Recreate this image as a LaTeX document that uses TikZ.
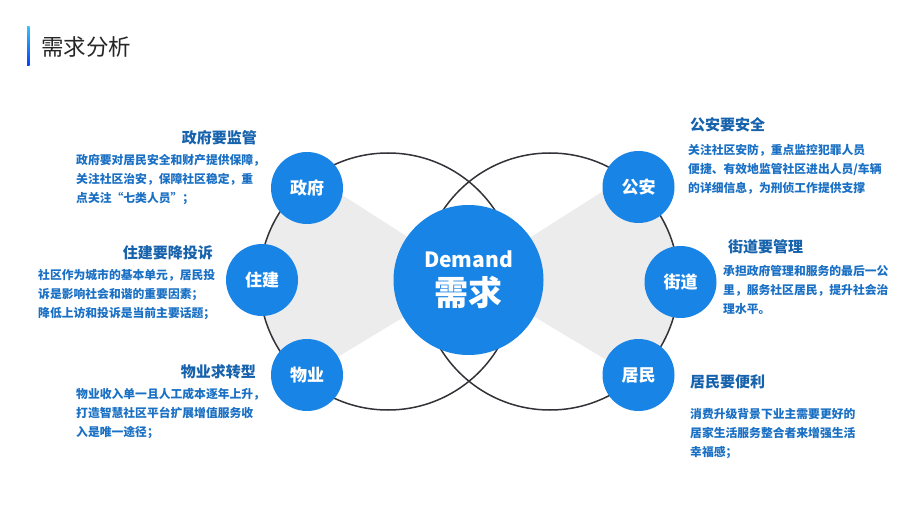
\documentclass[tikz,border=0pt]{standalone}
\usepackage{fontspec}
\setmainfont{Noto Sans CJK SC}
\usepackage{xcolor}
\usepackage{tikz}
\usetikzlibrary{positioning}
\definecolor{bubbleblue}{RGB}{24,132,230}
\definecolor{headblue}{RGB}{22,98,172}
\definecolor{bodyblue}{RGB}{26,112,196}
\definecolor{ringgray}{RGB}{50,50,56}
\definecolor{wedgegray}{RGB}{236,236,236}

\begin{document}
\begin{tikzpicture}[x=1pt, y=-1pt,
  bubble/.style={circle, fill=bubbleblue, text=white, minimum size=72pt, inner sep=0pt, font=\fontsize{17}{17}\selectfont\bfseries},
  hub/.style={circle, fill=bubbleblue, minimum size=150pt, inner sep=0pt},
  ring/.style={draw=ringgray, line width=1.5pt},
  head/.style={text=headblue, inner sep=0pt, font=\fontsize{15}{15}\selectfont\bfseries},
  body/.style={text=bodyblue, inner sep=0pt, align=left, font=\fontsize{11.8}{19}\selectfont\bfseries}]
  \useasboundingbox[fill=white] (0,0) rectangle (920,518);

  \shade[top color=cyan!70!blue!80, bottom color=blue!75!cyan] (27,27) rectangle (29.5,66);
  \node[anchor=west, inner sep=0pt, text=black!85, font=\fontsize{22.5}{22.5}\selectfont] (title) at (41,47) {需求分析};

  \begin{scope}
    \clip (388,281.5) circle[radius=128.5pt];
    \fill[wedgegray] (470,277) -- (250,136) -- (250,410) -- cycle;
  \end{scope}
  \begin{scope}
    \clip (550,281.5) circle[radius=128.5pt];
    \fill[wedgegray] (468,277) -- (690,136) -- (690,410) -- cycle;
  \end{scope}
  \draw[ring] (388,281.5) circle[radius=128.5pt];
  \draw[ring] (550,281.5) circle[radius=128.5pt];

  \node[hub] (demand) at (468.5,280) {};
  \node[inner sep=0pt, text=white, font=\fontsize{21}{21}\selectfont\bfseries] (demandEN) at (468.5,259) {Demand};
  \node[inner sep=0pt, text=white, font=\fontsize{34}{34}\selectfont\bfseries] (demandCN) at (468.5,292) {需求};

  \node[bubble] (gov)      at (307,188)   {政府};
  \node[bubble] (housing)  at (262,280)   {住建};
  \node[bubble] (estate)   at (307,375)   {物业};
  \node[bubble] (police)   at (638.5,187) {公安};
  \node[bubble] (street)   at (680.5,282) {街道};
  \node[bubble] (resident) at (638.5,375) {居民};

  \node[head, anchor=east] (govhead) at (257,138) {政府要监管};
  \node[body, anchor=north west] (govtext) at (76,154) {政府要对居民安全和财产提供保障，\\关注社区治安，保障社区稳定，重\\点关注“七类人员”；};
  \node[head, anchor=east] (househead) at (213,253) {住建要降投诉};
  \node[body, anchor=north west] (housetext) at (38,269) {社区作为城市的基本单元，居民投\\诉是影响社会和谐的重要因素；\\降低上访和投诉是当前主要话题；};
  \node[head, anchor=east] (estatehead) at (256,372) {物业求转型};
  \node[body, anchor=north west] (estatetext) at (76,388) {物业收入单一且人工成本逐年上升，\\打造智慧社区平台扩展增值服务收\\入是唯一途径；};

  \node[head, anchor=west] (policehead) at (690,125) {公安要安全};
  \node[body, anchor=north west] (policetext) at (688,144) {关注社区安防，重点监控犯罪人员\\便捷、有效地监管社区进出人员/车辆\\的详细信息，为刑侦工作提供支撑};
  \node[head, anchor=west] (streethead) at (728,247) {街道要管理};
  \node[body, anchor=north west] (streettext) at (723,265) {承担政府管理和服务的最后一公\\里，服务社区居民，提升社会治\\理水平。};
  \node[head, anchor=west] (residenthead) at (690,382) {居民要便利};
  \node[body, anchor=north west] (residenttext) at (690,408) {消费升级背景下业主需要更好的\\居家生活服务整合者来增强生活\\幸福感；};
\end{tikzpicture}
\end{document}
